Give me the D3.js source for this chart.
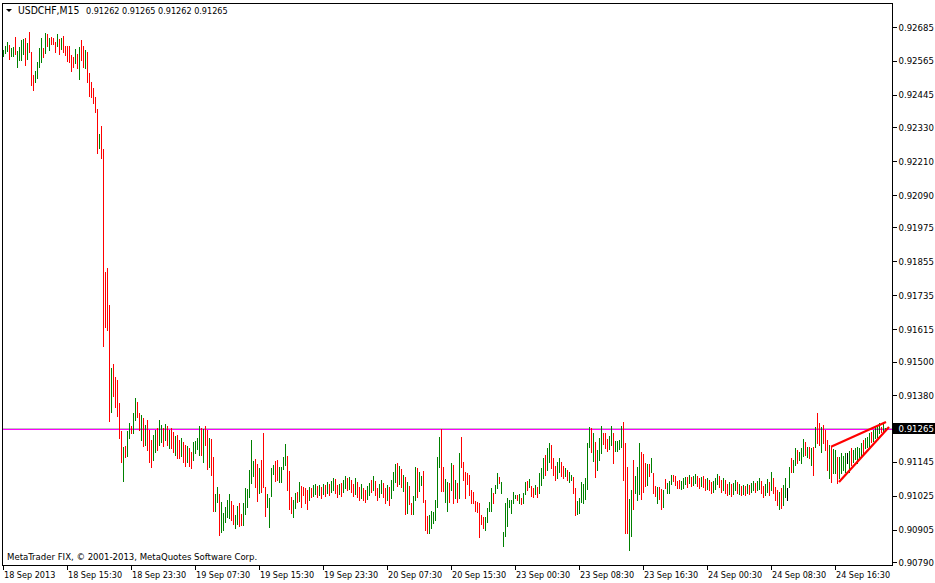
<!DOCTYPE html>
<html><head><meta charset="utf-8">
<script src="https://cdn.jsdelivr.net/npm/d3@7"></script>
<style>
html,body{margin:0;padding:0;background:#fff;overflow:hidden}
svg{display:block}
text{font-family:'DejaVu Sans Condensed','Liberation Sans',sans-serif;fill:#000}
</style></head><body>
<svg id="c" width="935" height="583"></svg>
<script>
const symbol = "USDCHF,M15";
const quote = [0.91262, 0.91265, 0.91262, 0.91265];
const copyright = "MetaTrader FIX, \u00a9 2001-2013, MetaQuotes Software Corp.";
const lastPrice = 0.91265;

const highs = [
0.92604,0.92618,0.92632,0.92621,0.92611,0.92614,0.92650,0.92600,0.92614,0.92639,
0.92642,0.92646,0.92628,0.92667,0.92596,0.92515,0.92529,0.92561,0.92611,0.92646,
0.92611,0.92664,0.92660,0.92646,0.92650,0.92646,0.92632,0.92660,0.92642,0.92646,
0.92653,0.92618,0.92618,0.92618,0.92586,0.92579,0.92607,0.92589,0.92614,0.92639,
0.92618,0.92604,0.92596,0.92522,0.92490,0.92469,0.92437,0.92395,0.92306,0.92334,
0.92253,0.91817,0.91831,0.91700,0.91477,0.91491,0.91445,0.91435,0.91353,0.91254,
0.91197,0.91200,0.91254,0.91282,0.91271,0.91318,0.91371,0.91357,0.91318,0.91311,
0.91300,0.91275,0.91293,0.91257,0.91222,0.91240,0.91257,0.91264,0.91293,0.91275,
0.91264,0.91279,0.91271,0.91257,0.91264,0.91250,0.91236,0.91240,0.91222,0.91229,
0.91215,0.91204,0.91200,0.91193,0.91179,0.91215,0.91218,0.91229,0.91271,0.91264,
0.91261,0.91271,0.91257,0.91229,0.91225,0.91161,0.91030,0.91055,0.91030,0.91002,
0.90963,0.90984,0.91009,0.91030,0.91005,0.90991,0.90955,0.90987,0.90998,0.90959,
0.90998,0.91051,0.91048,0.91115,0.91222,0.91147,0.91154,0.91137,0.91122,0.91151,
0.91247,0.91055,0.91030,0.91016,0.91122,0.91133,0.91147,0.91151,0.91126,0.91126,
0.91161,0.91208,0.91165,0.91112,0.91019,0.91009,0.91034,0.91037,0.91073,0.91058,
0.91055,0.91051,0.91044,0.91055,0.91051,0.91062,0.91066,0.91058,0.91062,0.91055,
0.91066,0.91062,0.91073,0.91066,0.91076,0.91087,0.91083,0.91062,0.91066,0.91069,
0.91080,0.91094,0.91087,0.91090,0.91080,0.91066,0.91087,0.91073,0.91055,0.91066,
0.91051,0.91044,0.91058,0.91069,0.91080,0.91094,0.91076,0.91051,0.91066,0.91080,
0.91069,0.91051,0.91062,0.91055,0.91080,0.91108,0.91137,0.91140,0.91129,0.91119,
0.91097,0.91090,0.91073,0.91058,0.90998,0.91023,0.91126,0.91122,0.91108,0.91094,
0.91112,0.91009,0.90952,0.90955,0.90970,0.90966,0.91009,0.91161,0.91232,0.91261,
0.91126,0.91083,0.91073,0.91069,0.91140,0.91133,0.91080,0.91069,0.91176,0.91232,
0.91144,0.91108,0.91105,0.91097,0.91044,0.91037,0.91005,0.91002,0.90998,0.90955,
0.90948,0.90948,0.90980,0.91002,0.91051,0.91034,0.91062,0.91105,0.91090,0.91073,
0.90895,0.90998,0.91016,0.91009,0.91009,0.91037,0.91026,0.91026,0.91030,0.91016,
0.91034,0.91073,0.91076,0.91083,0.91058,0.91051,0.91062,0.91055,0.91105,0.91122,
0.91158,0.91169,0.91193,0.91211,0.91204,0.91158,0.91129,0.91144,0.91158,0.91144,
0.91129,0.91122,0.91115,0.91108,0.91097,0.91090,0.91051,0.91005,0.91016,0.91073,
0.91066,0.91087,0.91211,0.91268,0.91264,0.91247,0.91215,0.91186,0.91229,0.91271,
0.91247,0.91247,0.91225,0.91236,0.91271,0.91247,0.91218,0.91218,0.91222,0.91271,
0.91286,0.91211,0.91126,0.91012,0.91044,0.91151,0.91094,0.91126,0.91211,0.91179,
0.91172,0.91140,0.91137,0.91137,0.91158,0.91105,0.91058,0.91055,0.91055,0.91048,
0.91044,0.91083,0.91069,0.91076,0.91097,0.91097,0.91094,0.91076,0.91080,0.91076,
0.91087,0.91090,0.91090,0.91097,0.91090,0.91094,0.91101,0.91094,0.91087,0.91090,
0.91094,0.91083,0.91087,0.91080,0.91073,0.91076,0.91087,0.91101,0.91094,0.91080,
0.91087,0.91080,0.91066,0.91073,0.91066,0.91069,0.91080,0.91073,0.91066,0.91058,
0.91062,0.91058,0.91066,0.91062,0.91069,0.91076,0.91069,0.91076,0.91087,0.91076,
0.91058,0.91066,0.91083,0.91073,0.91108,0.91087,0.91055,0.91044,0.91037,0.91051,
0.91062,0.91087,0.91051,0.91126,0.91158,0.91151,0.91193,0.91186,0.91179,0.91193,
0.91225,0.91215,0.91197,0.91197,0.91193,0.91197,0.91268,0.91318,0.91282,0.91268,
0.91275,0.91257,0.91222,0.91204,0.91197,0.91190,0.91186,0.91161,0.91161,0.91176,
0.91165,0.91176,0.91176,0.91183,0.91193,0.91186,0.91193,0.91197,0.91193,0.91211,
0.91222,0.91229,0.91232,0.91247,0.91250,0.91257,0.91268,0.91275,0.91282,0.91268,
0.91279,0.91265];

const lows = [
0.92582,0.92593,0.92600,0.92572,0.92582,0.92582,0.92589,0.92543,0.92568,0.92568,
0.92589,0.92550,0.92572,0.92596,0.92480,0.92462,0.92490,0.92504,0.92543,0.92561,
0.92579,0.92593,0.92618,0.92604,0.92625,0.92625,0.92596,0.92618,0.92589,0.92607,
0.92596,0.92586,0.92565,0.92561,0.92529,0.92543,0.92558,0.92540,0.92501,0.92568,
0.92543,0.92540,0.92490,0.92441,0.92437,0.92416,0.92384,0.92239,0.92256,0.92221,
0.91555,0.91622,0.91612,0.91289,0.91321,0.91378,0.91339,0.91307,0.91229,0.91144,
0.91076,0.91161,0.91165,0.91229,0.91247,0.91247,0.91293,0.91303,0.91257,0.91222,
0.91200,0.91204,0.91186,0.91144,0.91126,0.91151,0.91179,0.91186,0.91204,0.91215,
0.91200,0.91222,0.91204,0.91193,0.91193,0.91179,0.91169,0.91158,0.91158,0.91165,
0.91144,0.91129,0.91144,0.91129,0.91122,0.91151,0.91176,0.91190,0.91169,0.91169,
0.91144,0.91204,0.91119,0.91126,0.91097,0.90970,0.90970,0.91002,0.90885,0.90895,
0.90902,0.90931,0.90948,0.90945,0.90938,0.90924,0.90909,0.90924,0.90916,0.90920,
0.90920,0.90959,0.90984,0.91019,0.91069,0.91094,0.91055,0.91005,0.91034,0.91037,
0.91055,0.90952,0.90984,0.90913,0.91023,0.91101,0.91076,0.91080,0.91073,0.91073,
0.91119,0.91133,0.91044,0.90977,0.90963,0.90948,0.90980,0.91002,0.91005,0.90984,
0.91026,0.90998,0.90977,0.91009,0.91019,0.91023,0.91030,0.91019,0.91026,0.91016,
0.91030,0.91023,0.91034,0.91026,0.91037,0.91044,0.91034,0.91019,0.91030,0.91023,
0.91037,0.91051,0.91044,0.91048,0.91037,0.91023,0.91030,0.91019,0.91009,0.91016,
0.91009,0.91002,0.91012,0.91026,0.91037,0.91044,0.91026,0.91009,0.91019,0.91034,
0.91019,0.90998,0.91009,0.90991,0.91016,0.91044,0.91073,0.91058,0.91066,0.91055,
0.91041,0.90959,0.90963,0.90995,0.90959,0.90959,0.91009,0.91019,0.91041,0.91062,
0.91002,0.90902,0.90892,0.90892,0.90909,0.90927,0.90938,0.90984,0.91126,0.91041,
0.91041,0.91002,0.90970,0.91002,0.91044,0.90998,0.91016,0.91002,0.91016,0.91126,
0.91080,0.91016,0.91066,0.91026,0.90998,0.90998,0.90970,0.90966,0.90877,0.90924,
0.90909,0.90902,0.90931,0.90970,0.90970,0.90998,0.91034,0.91051,0.91069,0.91034,
0.90845,0.90881,0.90916,0.90984,0.90963,0.90998,0.91016,0.91009,0.90998,0.90995,
0.90998,0.91030,0.91044,0.91055,0.91023,0.91019,0.91030,0.91019,0.91034,0.91062,
0.91087,0.91097,0.91115,0.91144,0.91122,0.91097,0.91080,0.91087,0.91108,0.91094,
0.91087,0.91094,0.91080,0.91073,0.91080,0.91034,0.90955,0.90959,0.90963,0.91002,
0.90998,0.91012,0.91048,0.91197,0.91179,0.91147,0.91090,0.91115,0.91151,0.91176,
0.91208,0.91193,0.91183,0.91190,0.91204,0.91140,0.91183,0.91183,0.91190,0.91197,
0.91080,0.90892,0.90892,0.90831,0.90881,0.90977,0.91034,0.91009,0.91030,0.91012,
0.91037,0.91058,0.91062,0.91094,0.91108,0.91034,0.91023,0.90998,0.91012,0.90977,
0.90984,0.91051,0.91034,0.91034,0.91066,0.91076,0.91062,0.91051,0.91051,0.91048,
0.91051,0.91066,0.91055,0.91069,0.91058,0.91062,0.91069,0.91058,0.91051,0.91058,
0.91055,0.91044,0.91048,0.91044,0.91034,0.91037,0.91048,0.91066,0.91055,0.91037,
0.91044,0.91034,0.91026,0.91030,0.91023,0.91030,0.91044,0.91034,0.91030,0.91026,
0.91030,0.91026,0.91034,0.91030,0.91037,0.91044,0.91037,0.91044,0.91048,0.91034,
0.91019,0.91026,0.91037,0.91026,0.91044,0.91034,0.91009,0.90991,0.90977,0.90980,
0.90991,0.91019,0.91009,0.91055,0.91108,0.91108,0.91133,0.91140,0.91151,0.91140,
0.91165,0.91169,0.91161,0.91158,0.91133,0.91097,0.91197,0.91211,0.91204,0.91179,
0.91211,0.91186,0.91115,0.91087,0.91073,0.91105,0.91105,0.91069,0.91087,0.91105,
0.91115,0.91108,0.91140,0.91108,0.91133,0.91144,0.91154,0.91140,0.91158,0.91165,
0.91169,0.91193,0.91197,0.91197,0.91215,0.91218,0.91229,0.91232,0.91247,0.91250,
0.91250,0.91262];

// bar direction: u = close above open, d = close below open, n = unchanged
const directions = (
"uuudu uduuu ududd duuuu dudud ddudu ddddd dudud duddd dddud " +
"ddddu ddddd uduud uuddu duddd uuduu dudud duddu ddudd uuuud " +
"uddud duudu uuuud duudd uuuuu uddud dduuu udduu uuddd uudud " +
"dddud uudud ududu uddud uudud duddu dduud udduu ddudu uudud " +
"ududd uuduu ddduu uuuud duudu dudud ddddd ddddd duuuu duudu " +
"uuuuu uudud uudud duduu uduud dduud duduu dduuu uuuud uduuu " +
"ddduu duuuu ddduu duuud ddudu ddudd uduuu ddddu uudud uuddu " +
"ddudd uuudd uddud uudud ududu uduud duudu dddud uunud uuduu " +
"ududu duddu dddud uuduu uunud uuuuu duuud uuuud uu").replace(/ /g, "");

const timeTicks = [0, 32, 64, 96, 128, 160, 192, 224, 256, 288, 320, 352, 384, 416];
const timeLabels = ["18 Sep 2013", "18 Sep 15:30", "18 Sep 23:30", "19 Sep 07:30", "19 Sep 15:30",
  "19 Sep 23:30", "20 Sep 07:30", "20 Sep 15:30", "23 Sep 00:30", "23 Sep 08:30",
  "23 Sep 16:30", "24 Sep 00:30", "24 Sep 08:30", "24 Sep 16:30"];
const priceTicks = [0.92685, 0.92565, 0.92445, 0.92330, 0.92210, 0.92090, 0.91975, 0.91855,
  0.91735, 0.91615, 0.91500, 0.91380, 0.91265, 0.91145, 0.91025, 0.90905, 0.90790];

// hand-drawn trend lines: [bar index, price] -> [bar index, price]
const trendStart = [[414, 0.91198], [418, 0.91073]];
const trendEnd = [[441.5, 0.91286], [443, 0.91268]];

const W = 935, H = 583;
const plot = {left: 2, right: 892, top: 3, bottom: 565};

const svg = d3.select("#c");
svg.append("rect").attr("width", W).attr("height", H).attr("fill", "#fff");

const y = d3.scaleLinear().domain([0.92685, 0.90790]).range([27, 562]);
const x = d3.scaleLinear().domain([0, highs.length - 1]).range([3, 3 + 2 * (highs.length - 1)]);

const colors = {u: "#008000", d: "#ff0000", n: "#000000"};
const bars = highs.map((h, i) => ({i, h, l: lows[i], dir: directions[i] || "n"}));
const yp = Math.round(y(lastPrice));

// price lines
svg.append("line").attr("x1", plot.left).attr("x2", plot.right)
  .attr("y1", yp + 0.5).attr("y2", yp + 0.5)
  .attr("stroke", "#c0c0c0").attr("stroke-width", 1);
svg.append("line").attr("x1", plot.left).attr("x2", W)
  .attr("y1", yp + 1.5).attr("y2", yp + 1.5)
  .attr("stroke", "#ff00ff").attr("stroke-width", 1);

// bars
svg.append("g").attr("shape-rendering", "crispEdges")
  .selectAll("rect").data(bars).join("rect")
  .attr("x", d => Math.round(x(d.i)))
  .attr("y", d => Math.round(y(d.h)))
  .attr("width", 1)
  .attr("height", d => Math.max(1, Math.round(y(d.l)) - Math.round(y(d.h)) + 1))
  .attr("fill", d => colors[d.dir]);

// trend lines
svg.append("g").selectAll("line").data(trendStart).join("line")
  .attr("x1", d => x(d[0])).attr("y1", d => y(d[1]))
  .attr("x2", (d, k) => x(trendEnd[k][0])).attr("y2", (d, k) => y(trendEnd[k][1]))
  .attr("stroke", "#ff0000").attr("stroke-width", 2.2);

// frame
svg.append("rect").attr("x", plot.left + 0.5).attr("y", plot.top + 0.5)
  .attr("width", plot.right - plot.left).attr("height", plot.bottom - plot.top)
  .attr("fill", "none").attr("stroke", "#000").attr("stroke-width", 1)
  .attr("shape-rendering", "crispEdges");

// price axis
const yAxis = d3.axisRight(y).tickValues(priceTicks).tickSize(4).tickPadding(2)
  .tickFormat(d => d.toFixed(5));
const gy = svg.append("g").attr("transform", `translate(${plot.right + 0.5},0)`).call(yAxis);
gy.select(".domain").remove();
gy.selectAll(".tick line").attr("shape-rendering", "crispEdges").attr("stroke", "#000");
gy.selectAll(".tick text").attr("font-size", 9.5).attr("font-family", null).attr("fill", "#000");

// current price marker
svg.append("rect").attr("x", plot.right + 1).attr("y", yp - 5).attr("width", W - plot.right - 1)
  .attr("height", 11).attr("fill", "#000");
svg.append("text").attr("x", plot.right + 6.5).attr("y", yp + 4)
  .attr("font-size", 9.5).style("fill", "#fff").text(lastPrice.toFixed(5));

// time axis
const xAxis = d3.axisBottom(x).tickValues(timeTicks).tickSize(4)
  .tickFormat((d, k) => timeLabels[k]);
const gx = svg.append("g").attr("transform", `translate(-0.5,${plot.bottom + 0.5})`).call(xAxis);
gx.select(".domain").remove();
gx.selectAll(".tick line").attr("shape-rendering", "crispEdges").attr("stroke", "#000");
gx.selectAll(".tick text").attr("font-size", 9).attr("font-family", null)
  .attr("text-anchor", "start").attr("x", 1).attr("y", 12).attr("dy", 0).attr("fill", "#000");

// title
svg.append("path").attr("d", "M6,9 L12,9 L9,12 Z").attr("fill", "#000");
svg.append("text").attr("x", 18).attr("y", 14).attr("font-size", 10.3).text(symbol);
svg.append("text").attr("x", 86).attr("y", 14).attr("font-size", 9)
  .text(quote.map(v => v.toFixed(5)).join(" "));

// copyright
svg.append("text").attr("x", 7).attr("y", 559.5).attr("font-size", 9.5).text(copyright);
</script>
</body></html>
